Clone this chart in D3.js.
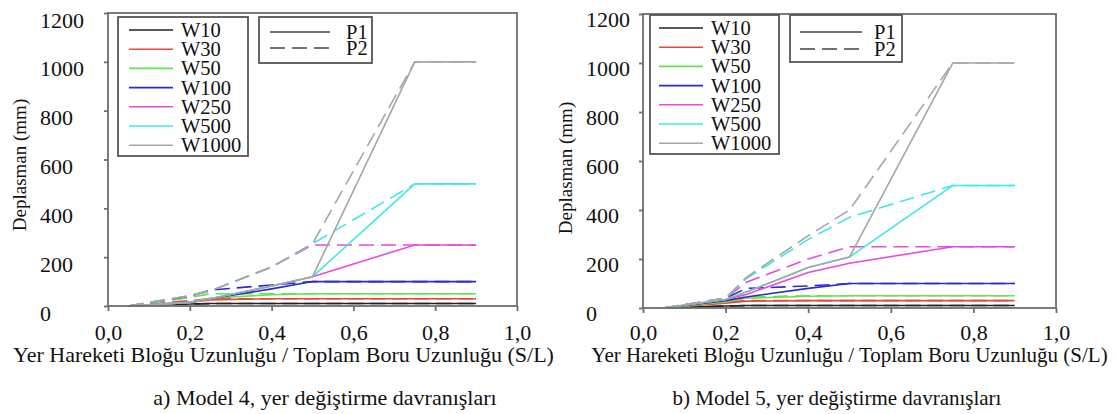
<!DOCTYPE html>
<html>
<head>
<meta charset="utf-8">
<script src="https://cdn.jsdelivr.net/npm/d3@7"></script>
<style>
  body { margin: 0; background: #fff; }
  svg text { font-family: "Liberation Serif", "Times New Roman", serif; fill: #111; }
</style>
</head>
<body>
<svg id="chart" width="1116" height="414" font-family="Liberation Serif, serif"></svg>
<script>
// x positions (S/L) shared by every series
var xs = [0.05, 0.2, 0.25, 0.4, 0.5, 0.75, 0.9];

var seriesNames = ["W10", "W30", "W50", "W100", "W250", "W500", "W1000"];
var seriesColors = ["#222222", "#e8473e", "#62e44c", "#2b2bcc", "#e64ade", "#45e6e6", "#a6a6a6"];
var profileNames = ["P1", "P2"];

var xTicks = [0, 0.2, 0.4, 0.6, 0.8, 1.0];
var yTicks = [0, 200, 400, 600, 800, 1000, 1200];

// Model 4 - P1 (solid) and P2 (dashed), mm
var model4P1 = [
    [0, 8, 10, 10, 10, 10, 10],
    [0, 15, 25, 30, 30, 30, 30],
    [0, 15, 32, 46, 50, 50, 50],
    [0, 15, 30, 70, 100, 100, 100],
    [0, 15, 30, 82, 120, 250, 250],
    [0, 15, 30, 82, 120, 500, 500],
    [0, 15, 30, 82, 120, 1000, 1000]
];
var model4P2 = [
    [0, 8, 10, 10, 10, 10, 10],
    [0, 22, 30, 30, 30, 30, 30],
    [0, 35, 50, 50, 50, 50, 50],
    [0, 40, 65, 86, 100, 100, 100],
    [0, 42, 62, 160, 250, 250, 250],
    [0, 42, 62, 160, 255, 500, 500],
    [0, 42, 62, 160, 255, 1000, 1000]
];

// Model 5 - P1 (solid) and P2 (dashed), mm
var model5P1 = [
    [0, 8, 10, 10, 10, 10, 10],
    [0, 20, 28, 30, 30, 30, 30],
    [0, 25, 40, 48, 50, 50, 50],
    [0, 30, 45, 80, 100, 100, 100],
    [0, 35, 55, 145, 183, 250, 250],
    [0, 35, 65, 165, 208, 500, 500],
    [0, 35, 65, 165, 208, 1000, 1000]
];
var model5P2 = [
    [0, 8, 10, 10, 10, 10, 10],
    [0, 25, 30, 30, 30, 30, 30],
    [0, 30, 45, 50, 50, 50, 50],
    [0, 40, 80, 90, 100, 100, 100],
    [0, 40, 105, 200, 250, 250, 250],
    [0, 40, 120, 280, 370, 500, 500],
    [0, 40, 125, 295, 400, 1000, 1000]
];

var xTitle = "Yer Hareketi Bloğu Uzunluğu / Toplam Boru Uzunluğu (S/L)";
var yTitle = "Deplasman (mm)";

var frameColor = "#6e6e6e";
var serif = "Liberation Serif, serif";
var svg = d3.select("#chart");

var fmt = function(d) { return d3.format(".1f")(d).replace(".", ","); };

function drawPanel(p) {
    var x = d3.scaleLinear().domain([0, 1]).range([p.x0, p.x1]);
    var y = d3.scaleLinear().domain([0, 1200]).range([p.y0, p.y1]);
    var g = svg.append("g").attr("font-family", serif);

    // lines, solid then dashed for each W
    var line = d3.line()
        .x(function(d, i) { return x(xs[i]); })
        .y(function(d) { return y(d); });

    seriesNames.forEach(function(name, i) {
        [p.p1, p.p2].forEach(function(set, k) {
            g.append("path")
                .attr("d", line(set[i]))
                .attr("fill", "none")
                .attr("stroke", seriesColors[i])
                .attr("stroke-width", 1.6)
                .attr("stroke-dasharray", k == 1 ? "15,7" : null);
        });
    });

    // frame
    g.append("rect")
        .attr("x", p.x0).attr("y", p.y1)
        .attr("width", p.x1 - p.x0).attr("height", p.y0 - p.y1)
        .attr("fill", "none").attr("stroke", frameColor).attr("stroke-width", 1.8);

    var xAxis = g.append("g")
        .attr("transform", "translate(0," + p.y0 + ")")
        .call(d3.axisBottom(x).tickValues(xTicks).tickFormat(fmt)
            .tickSize(5).tickSizeOuter(0).tickPadding(p.xPad));
    var yAxis = g.append("g")
        .attr("transform", "translate(" + p.x0 + ",0)")
        .call(d3.axisLeft(y).tickValues(yTicks).tickFormat(d3.format("d"))
            .tickSize(4).tickSizeOuter(0));

    [xAxis, yAxis].forEach(function(a) {
        a.attr("font-family", serif).attr("font-size", 22);
        a.select(".domain").remove();
        a.selectAll(".tick line").attr("stroke", frameColor).attr("stroke-width", 1.8);
        a.selectAll("text").attr("fill", "#111");
    });
    yAxis.selectAll("text")
        .attr("text-anchor", "start")
        .attr("x", p.yLabelX - p.x0)
        .attr("y", p.yLabelDy);

    // axis titles
    g.append("text")
        .attr("x", (p.x0 + p.x1) / 2 + p.titleShift).attr("y", 362)
        .attr("text-anchor", "middle").attr("font-size", p.titleSize)
        .text(xTitle);
    g.append("text")
        .attr("transform", "translate(" + p.yTitleX + "," + p.yTitleY + ") rotate(-90)")
        .attr("text-anchor", "middle").attr("font-size", 19).attr("dy", "0.35em")
        .text(yTitle);
    g.append("text")
        .attr("x", p.captionX).attr("y", 405)
        .attr("text-anchor", "middle").attr("font-size", p.titleSize)
        .text(p.caption);

    // legend of W series
    var L = p.leg1;
    g.append("rect")
        .attr("x", L.x).attr("y", L.y).attr("width", L.w).attr("height", L.h)
        .attr("fill", "#fff").attr("stroke", "#555").attr("stroke-width", 1.8);
    seriesNames.forEach(function(name, i) {
        var ry = L.row0 + i * 19.2;
        g.append("line")
            .attr("x1", L.lx0).attr("x2", L.lx1).attr("y1", ry).attr("y2", ry)
            .attr("stroke", seriesColors[i]).attr("stroke-width", 1.6);
        g.append("text")
            .attr("x", L.tx).attr("y", ry + 7).attr("font-size", 20.5)
            .text(name);
    });

    // legend of profiles
    var M = p.leg2;
    g.append("rect")
        .attr("x", M.x).attr("y", M.y).attr("width", M.w).attr("height", M.h)
        .attr("fill", "#fff").attr("stroke", "#555").attr("stroke-width", 1.8);
    profileNames.forEach(function(name, k) {
        var ry = M.row0 + k * M.step;
        g.append("line")
            .attr("x1", M.lx0).attr("x2", M.lx1).attr("y1", ry).attr("y2", ry)
            .attr("stroke", "#444").attr("stroke-width", 1.6)
            .attr("stroke-dasharray", k == 1 ? "15,7" : null);
        g.append("text")
            .attr("x", M.tx).attr("y", ry + 7).attr("font-size", 20.5)
            .text(name);
    });
}

drawPanel({
    x0: 108, x1: 517, y0: 306, y1: 13,
    p1: model4P1, p2: model4P2,
    xPad: 13, yLabelX: 40, yLabelDy: 7,
    titleSize: 22, titleShift: -29,
    yTitleX: 19, yTitleY: 165,
    caption: "a) Model 4, yer değiştirme davranışları", captionX: 325,
    leg1: { x: 118, y: 17, w: 130, h: 139, lx0: 129, lx1: 173, tx: 181, row0: 30 },
    leg2: { x: 259, y: 17, w: 113, h: 46, lx0: 270, lx1: 330, tx: 346, row0: 32, step: 16 }
});

drawPanel({
    x0: 643, x1: 1056, y0: 308, y1: 14,
    p1: model5P1, p2: model5P2,
    xPad: 11, yLabelX: 586, yLabelDy: 5,
    titleSize: 21, titleShift: 0,
    yTitleX: 565, yTitleY: 168,
    caption: "b) Model 5, yer değiştirme davranışları", captionX: 837,
    leg1: { x: 650, y: 15, w: 129, h: 139, lx0: 659, lx1: 703, tx: 711, row0: 28 },
    leg2: { x: 790, y: 15, w: 112, h: 47, lx0: 800, lx1: 862, tx: 874, row0: 32, step: 17 }
});
</script>
</body>
</html>
